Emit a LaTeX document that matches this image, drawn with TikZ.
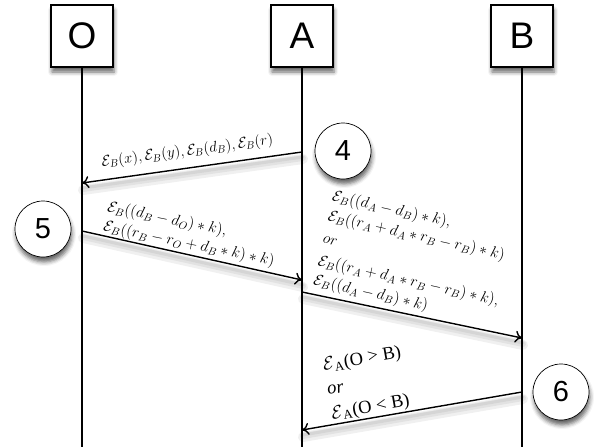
\RequirePackage{fix-cm}
\documentclass[tikz,border=0pt]{standalone}
\usepackage{fontspec}
\newfontfamily\headfont{Liberation Sans}
\newfontfamily\timesfont{Liberation Serif}
\usetikzlibrary{arrows.meta,shadows.blur}

\begin{document}
\begin{tikzpicture}[x=1pt,y=-1pt,
  softshadow/.style={blur shadow={shadow xshift=1pt, shadow yshift=-5pt,
      shadow blur radius=4pt, shadow opacity=60}},
  actor/.style={draw, line width=1.2pt, fill=white, minimum width=62pt,
      minimum height=62pt, inner sep=0pt, softshadow,
      font=\headfont\fontsize{37}{37}\selectfont},
  stepmark/.style={circle, draw, line width=0.7pt, fill=white,
      minimum size=56pt, inner sep=0pt, softshadow,
      font=\headfont\fontsize{29}{29}\selectfont},
  lifeline/.style={line width=1.3pt},
  msg/.style={line width=1.4pt, -{To[length=7pt,width=12pt]}},
  haze/.style={line width=#1, black, opacity=0.06, line cap=round},
  mathlbl/.style={inner sep=0pt, align=left, font=\fontsize{15}{20.6}\selectfont},
  widelbl/.style={mathlbl, font=\fontsize{15.5}{20.2}\selectfont},
  textlbl/.style={inner sep=0pt, align=left, font=\timesfont\fontsize{18.5}{24.5}\selectfont},
]
\useasboundingbox (0,0) rectangle (597,447);

% lifeline ends
\coordinate (Obot) at (82,447);
\coordinate (Abot) at (302,447);
\coordinate (Bbot) at (522,447);
\draw[lifeline] (82,60) -- (Obot);
\draw[lifeline] (302,60) -- (Abot);
\draw[lifeline] (522,60) -- (Bbot);

% participants
\node[actor] (O) at (82,36) {O};
\node[actor] (A) at (302,36) {A};
\node[actor] (B) at (522,36) {B};

% message end points on the lifelines
\coordinate (m1s) at (302,152);
\coordinate (m1e) at (82,183);
\coordinate (m2s) at (82,231);
\coordinate (m2e) at (302,280);
\coordinate (m3s) at (302,292);
\coordinate (m3e) at (522,338);
\coordinate (m4s) at (522,392);
\coordinate (m4e) at (302,430);

% soft shading under the messages
\foreach \s/\e in {m1s/m1e, m2s/m2e, m3s/m3e, m4s/m4e}{
  \draw[haze=10pt] ([xshift=1pt,yshift=-7pt]\s) -- ([xshift=1pt,yshift=-7pt]\e);
  \draw[haze=6pt] ([xshift=1pt,yshift=-6pt]\s) -- ([xshift=1pt,yshift=-6pt]\e);
  \draw[haze=3pt] ([xshift=1pt,yshift=-5pt]\s) -- ([xshift=1pt,yshift=-5pt]\e);
}

% messages
\draw[msg] (m1s) -- (m1e);
\draw[msg] (m2s) -- (m2e);
\draw[msg] (m3s) -- (m3e);
\draw[msg] (m4s) -- (m4e);

% message contents
\node[mathlbl, anchor=base west, rotate=7.5] (l1) at (102,166.5)
  {$\mathcal{E}_B(x), \mathcal{E}_B(y), \mathcal{E}_B(d_B), \mathcal{E}_B(r)$};
\node[widelbl, anchor=north west, rotate=-11.5] (l2) at (109,199.5)
  {$\mathcal{E}_B((d_B - d_O)*k),$\\
   $\mathcal{E}_B((r_B - r_O + d_B*k)*k)$};
\node[widelbl, anchor=north west, rotate=-12.5] (l3) at (334,189)
  {$\mathcal{E}_B((d_A - d_B)*k),$\\
   $\mathcal{E}_B((r_A + d_A*r_B - r_B)*k)$\\[2.5pt]
   $or$\\[3pt]
   $\mathcal{E}_B((r_A + d_A*r_B - r_B)*k),$\\
   $\mathcal{E}_B((d_A - d_B)*k)$};
\node[textlbl, anchor=north west, rotate=10] (l4) at (321.5,358)
  {\(\mathcal{E}\)\textsubscript{A}(O > B)\\
   \textit{or}\\
   \(\mathcal{E}\)\textsubscript{A}(O < B)};

% step markers
\node[stepmark] (s4) at (343,151) {4};
\node[stepmark] (s5) at (43,229) {5};
\node[stepmark] (s6) at (561,392) {6};
\end{tikzpicture}
\end{document}
